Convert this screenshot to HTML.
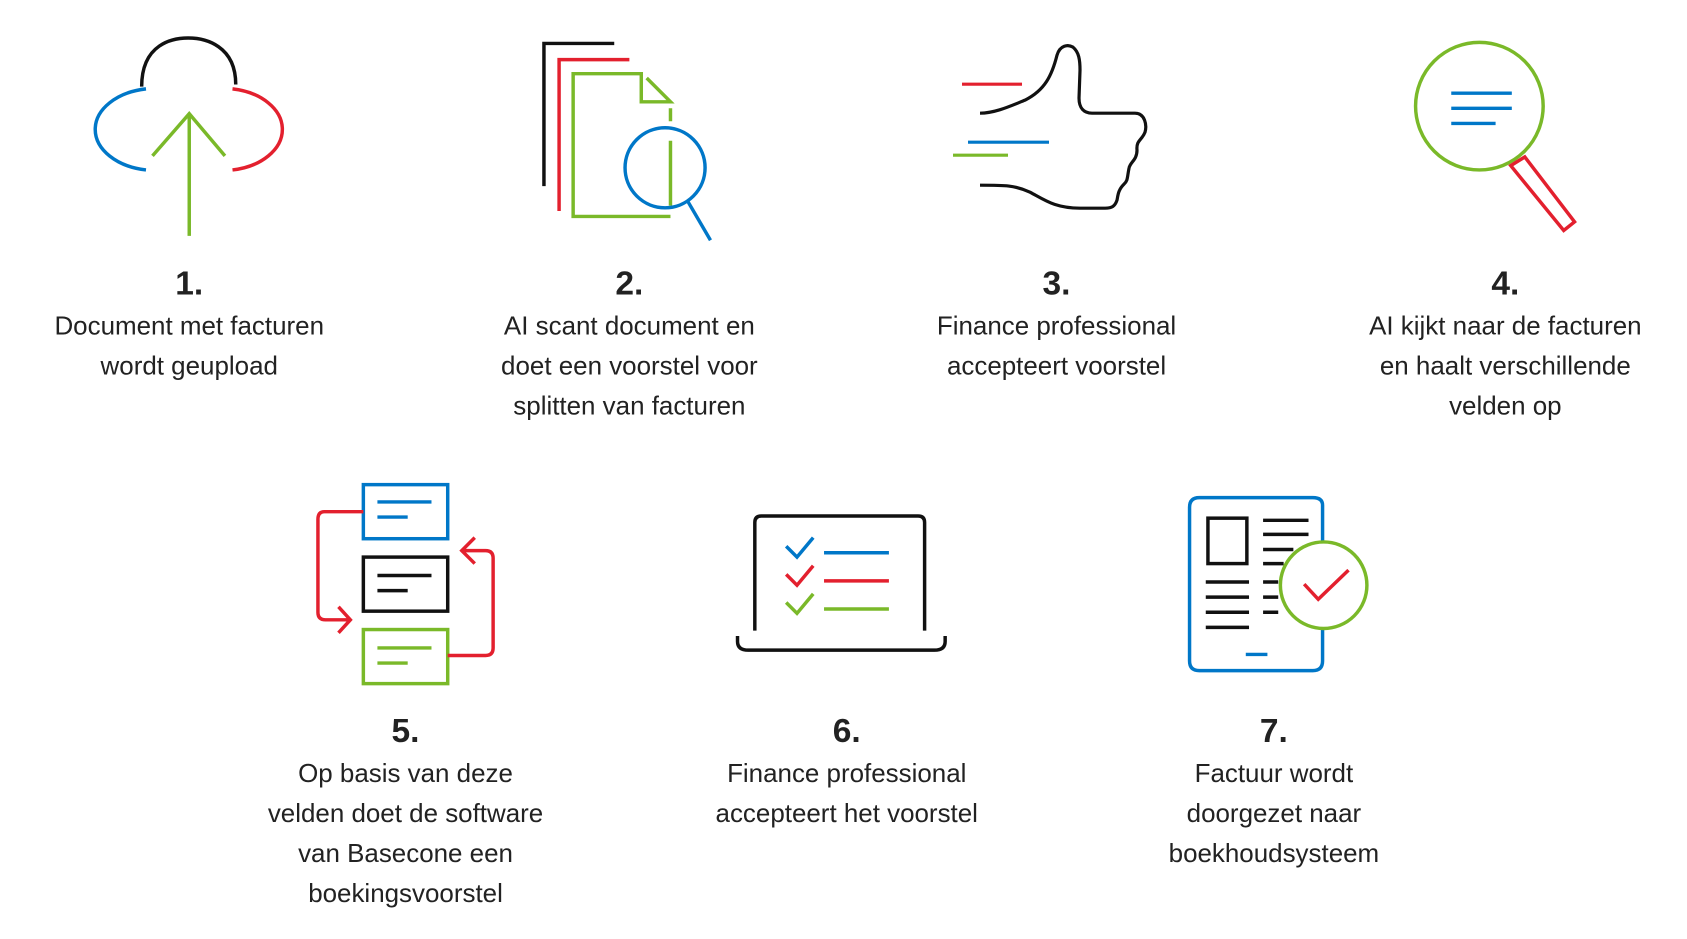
<!DOCTYPE html>
<html><head><meta charset="utf-8"><style>
html,body{margin:0;padding:0;background:#fff;}
svg{display:block;}
text{font-family:"Liberation Sans",sans-serif;fill:#222;text-anchor:middle;}
.n{font-weight:bold;font-size:31px;}
.t{font-size:24px;}
</style></head><body>
<svg width="1687" height="939" viewBox="0 0 1560 868" xmlns="http://www.w3.org/2000/svg">
<g fill="none" stroke-width="3.2">
<!-- 1 cloud -->
<path d="M135 82 A56 38 0 0 0 135 157" stroke="#0077c8"/>
<path d="M215 82 A55 38 0 0 1 215 157" stroke="#e3202e"/>
<path d="M131 80 C131 40 160 35 174 35 C190 35 218 42 218 78" stroke="#111"/>
<path d="M175 218 V105 M141 144 L175 105 L208 144" stroke="#7ab929"/>
<!-- 2 docs -->
<path d="M503 172 V40 H568" stroke="#111"/>
<path d="M517 195 V55 H582" stroke="#e3202e"/>
<path d="M620 200 H530 V68 H593 V94 H620 L598 72 M620 100 V112 M620 130 V190" stroke="#7ab929"/>
<circle cx="615" cy="155" r="37" stroke="#0077c8"/>
<path d="M636 186 L657 222" stroke="#0077c8"/>
<!-- 3 thumb -->
<g transform="scale(0.92473)">
<path d="M962 84 H1022" stroke="#e3202e"/>
<path d="M968 142 H1049" stroke="#0077c8"/>
<path d="M953 155 H1008" stroke="#7ab929"/>
<path d="M980 113 C995 113 1010 106 1025 100 C1045 90 1052 75 1057 55 C1060 45 1068 44 1073 47 C1079 52 1080 60 1080 70 L1079 98 C1079 108 1084 113 1092 113 L1135 113 C1145 113 1147 125 1145 132 C1142 140 1136 140 1137 150 C1137 160 1130 162 1129 168 C1127 178 1128 180 1124 184 C1118 190 1118 195 1117 200 C1115 206 1112 208 1105 208 L1080 208 C1055 208 1045 200 1030 192 C1015 185 1005 185 980 185" stroke="#111"/>
</g>
<!-- 4 magnifier -->
<circle cx="1368" cy="98" r="59" stroke="#7ab929"/>
<path d="M1342 86 H1398 M1342 100 H1398 M1342 114 H1383" stroke="#0077c8"/>
<path d="M1397 153 L1410 145 L1456 205 L1446 213 Z" stroke="#e3202e"/>
<!-- 5 boxes -->
<rect x="336" y="448" width="78" height="50" stroke="#0077c8"/>
<path d="M349 464 H399 M349 478 H377" stroke="#0077c8"/>
<rect x="336" y="515" width="78" height="50" stroke="#111"/>
<path d="M349 532 H399 M349 546 H377" stroke="#111"/>
<rect x="336" y="582" width="78" height="50" stroke="#7ab929"/>
<path d="M349 599 H399 M349 613 H377" stroke="#7ab929"/>
<path d="M336 473 H300 Q294 473 294 480 V566 Q294 573 301 573 H322 M313 561 L324 573 L313 585" stroke="#e3202e"/>
<path d="M414 606 H449 Q456 606 456 599 V516 Q456 509 449 509 H428 M439 497 L427 509 L439 521" stroke="#e3202e"/>
<!-- 6 laptop -->
<path d="M698 583 V483 Q698 477 704 477 H849 Q855 477 855 483 V583" stroke="#111"/>
<path d="M682 588 V593 Q682 601 692 601 H864 Q874 601 874 593 V588" stroke="#111"/>
<path d="M727 505 L737 515 L752 497" stroke="#0077c8"/>
<path d="M727 531 L737 541 L752 523" stroke="#e3202e"/>
<path d="M727 557 L737 567 L752 549" stroke="#7ab929"/>
<path d="M762 511 H822" stroke="#0077c8"/>
<path d="M762 537 H822" stroke="#e3202e"/>
<path d="M762 563 H822" stroke="#7ab929"/>
<!-- 7 phone -->
<path d="M1223 500 V467 Q1223 460 1214 460 H1109 Q1100 460 1100 469 V611 Q1100 620 1109 620 H1214 Q1223 620 1223 611 V580" stroke="#0077c8"/>
<path d="M1152 605 H1172" stroke="#0077c8"/>
<rect x="1117" y="479" width="36" height="42" stroke="#111"/>
<path d="M1168 481 H1210 M1168 494 H1210 M1168 508 H1196 M1168 521 H1187 M1115 538 H1155 M1115 552 H1155 M1115 566 H1155 M1115 580 H1155 M1168 538 H1182 M1168 552 H1182 M1168 566 H1182" stroke="#111"/>
<circle cx="1224" cy="541" r="40" stroke="#7ab929" fill="#fff"/>
<path d="M1206 540 L1219 554 L1247 527" stroke="#e3202e"/>
</g>
<text class="n" x="175" y="272">1.</text>
<text class="t" x="175" y="309">Document met facturen</text>
<text class="t" x="175" y="346">wordt geupload</text>
<text class="n" x="582" y="272">2.</text>
<text class="t" x="582" y="309">AI scant document en</text>
<text class="t" x="582" y="346">doet een voorstel voor</text>
<text class="t" x="582" y="383">splitten van facturen</text>
<text class="n" x="977" y="272">3.</text>
<text class="t" x="977" y="309">Finance professional</text>
<text class="t" x="977" y="346">accepteert voorstel</text>
<text class="n" x="1392" y="272">4.</text>
<text class="t" x="1392" y="309">AI kijkt naar de facturen</text>
<text class="t" x="1392" y="346">en haalt verschillende</text>
<text class="t" x="1392" y="383">velden op</text>
<text class="n" x="375" y="686">5.</text>
<text class="t" x="375" y="723">Op basis van deze</text>
<text class="t" x="375" y="760">velden doet de software</text>
<text class="t" x="375" y="797">van Basecone een</text>
<text class="t" x="375" y="834">boekingsvoorstel</text>
<text class="n" x="783" y="686">6.</text>
<text class="t" x="783" y="723">Finance professional</text>
<text class="t" x="783" y="760">accepteert het voorstel</text>
<text class="n" x="1178" y="686">7.</text>
<text class="t" x="1178" y="723">Factuur wordt</text>
<text class="t" x="1178" y="760">doorgezet naar</text>
<text class="t" x="1178" y="797">boekhoudsysteem</text>
</svg>
</body></html>
